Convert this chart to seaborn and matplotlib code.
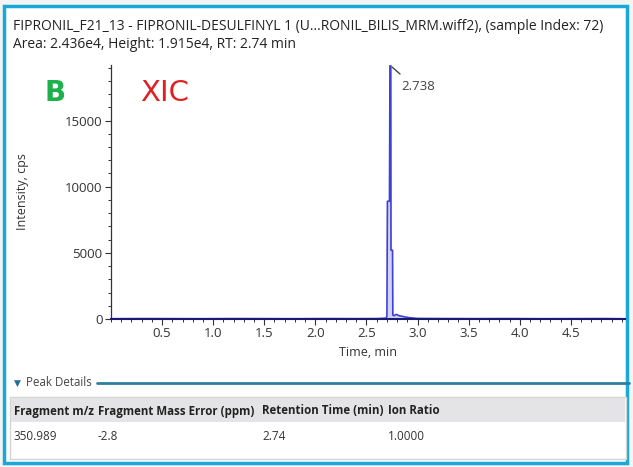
import matplotlib
matplotlib.use("Agg")
import matplotlib.pyplot as plt
import seaborn as sns
import pandas as pd
from matplotlib.patches import Rectangle
from matplotlib.lines import Line2D
from matplotlib.ticker import MultipleLocator, FixedLocator

# ---- data ----
time_min = [0.0, 0.3, 0.6, 0.9, 1.2, 1.5, 1.8, 2.1, 2.4, 2.6, 2.69, 2.70, 2.705,
            2.725, 2.730, 2.738, 2.740, 2.755, 2.758, 2.77, 2.79, 2.82, 2.85, 2.88, 2.92,
            3.0, 3.3, 3.6, 3.9, 4.2, 4.5, 4.8, 5.0]
intensity = [20, 30, 25, 20, 30, 25, 20, 30, 25, 30, 60, 200, 8900,
             8900, 19150, 19150, 5200, 5200, 300, 250, 350, 250, 200, 150, 100,
             40, 30, 25, 30, 20, 25, 30, 20]
x_ticks = [0.5, 1.0, 1.5, 2.0, 2.5, 3.0, 3.5, 4.0, 4.5]
y_ticks = [0, 5000, 10000, 15000]
peak_rt_label = "2.738"
title_line1 = "FIPRONIL_F21_13 - FIPRONIL-DESULFINYL 1 (U...RONIL_BILIS_MRM.wiff2), (sample Index: 72)"
title_line2 = "Area: 2.436e4, Height: 1.915e4, RT: 2.74 min"
table_headers = ["Fragment m/z", "Fragment Mass Error (ppm)", "Retention Time (min)", "Ion Ratio"]
table_row = ["350.989", "-2.8", "2.74", "1.0000"]

df = pd.DataFrame({"Time, min": time_min, "Intensity, cps": intensity})

sns.set_style("ticks")
plt.rcParams['font.family'] = ['Open Sans', 'DejaVu Sans']

W, H = 633, 467
fig = plt.figure(figsize=(W / 100, H / 100), dpi=100)
fig.patch.set_facecolor("#f3f4f4")

def fx(px):
    return px / W

def fy(py):
    return 1 - py / H

# outer panel
fig.patches.append(Rectangle((fx(4), fy(463)), fx(627) - fx(4), fy(6) - fy(463),
                             transform=fig.transFigure, facecolor="white",
                             edgecolor="#1aa8d8", linewidth=2.5, zorder=-5))

ax = fig.add_axes([fx(111), fy(319), fx(625) - fx(111), fy(65) - fy(319)])
ax.set_facecolor("none")
ax.set_zorder(5)

ax.fill_between(df["Time, min"], df["Intensity, cps"], color="#6a6ae6",
                alpha=0.3, linewidth=0)
sns.lineplot(data=df, x="Time, min", y="Intensity, cps", ax=ax,
             color="#4040d6", linewidth=1.2, estimator=None, sort=True)

ax.set_xlim(0, 5.03)
ax.set_ylim(0, 19200)
ax.xaxis.set_major_locator(FixedLocator(x_ticks))
ax.xaxis.set_minor_locator(MultipleLocator(0.1))
ax.yaxis.set_major_locator(FixedLocator(y_ticks))
ax.yaxis.set_minor_locator(MultipleLocator(1000))
ax.set_xticklabels([f"{v:.1f}" for v in x_ticks])
ax.set_yticklabels([str(v) for v in y_ticks])
ax.tick_params(axis="both", which="major", length=4, width=0.8, color="#333333",
               labelsize=9.5, labelcolor="#333333", pad=2)
ax.tick_params(axis="both", which="minor", length=2, width=0.7, color="#333333")
for s in ["top", "right"]:
    ax.spines[s].set_visible(False)
ax.spines["left"].set_color("#333333")
ax.spines["left"].set_linewidth(0.9)
ax.spines["bottom"].set_color("#1a1a70")
ax.spines["bottom"].set_linewidth(1.5)
ax.set_xlabel("Time, min", fontsize=9, color="#333333", labelpad=4)
ax.set_ylabel("Intensity, cps", fontsize=9, color="#333333", labelpad=26)

# peak annotation
ax.annotate(peak_rt_label, xy=(2.738, 19150), xytext=(2.84, 17600),
            fontsize=9.5, color="#444444", va="center", ha="left")
fig.add_artist(Line2D([fx(392), fx(400)], [fy(67), fy(74)], color="#444444",
                      linewidth=1.0, transform=fig.transFigure))

# titles
fig.text(fx(13), fy(26), title_line1, fontsize=10, color="#222222", va="center", ha="left")
fig.text(fx(13), fy(44), title_line2, fontsize=10, color="#222222", va="center", ha="left")

# B and XIC
fig.text(fx(55), fy(93), "B", fontsize=20, fontweight="bold", color="#1db04b",
         ha="center", va="center", family="DejaVu Sans")
fig.text(fx(165), fy(93), "XIC", fontsize=21, color="#e02020",
         ha="center", va="center", family="DejaVu Sans")

# Peak details section
fig.text(fx(14), fy(383), "\u25BC", fontsize=6.5, color="#1f6f95", va="center", ha="left",
         family="DejaVu Sans")
fig.text(fx(26), fy(383), "Peak Details", fontsize=8.3, color="#444444", va="center", ha="left")
fig.add_artist(Line2D([fx(97), fx(629)], [fy(383), fy(383)], color="#2a7f9f",
                      linewidth=2.0, transform=fig.transFigure))

# table
fig.patches.append(Rectangle((fx(10), fy(459)), fx(626) - fx(10), fy(397) - fy(459),
                             transform=fig.transFigure, facecolor="white",
                             edgecolor="#d4d4d4", linewidth=1.0, zorder=1))
fig.patches.append(Rectangle((fx(11), fy(422)), fx(625) - fx(11), fy(398) - fy(422),
                             transform=fig.transFigure, facecolor="#e4e4e6",
                             edgecolor="none", zorder=1))
col_x = [14, 98, 262, 388]
for cx, h in zip(col_x, table_headers):
    fig.text(fx(cx), fy(411), h, fontsize=8.3, fontweight="bold", color="#222222",
             va="center", ha="left")
for cx, v in zip(col_x, table_row):
    fig.text(fx(cx), fy(437), v, fontsize=8.5, color="#333333", va="center", ha="left")

fig.savefig("out.png", dpi=100, facecolor=fig.get_facecolor())
